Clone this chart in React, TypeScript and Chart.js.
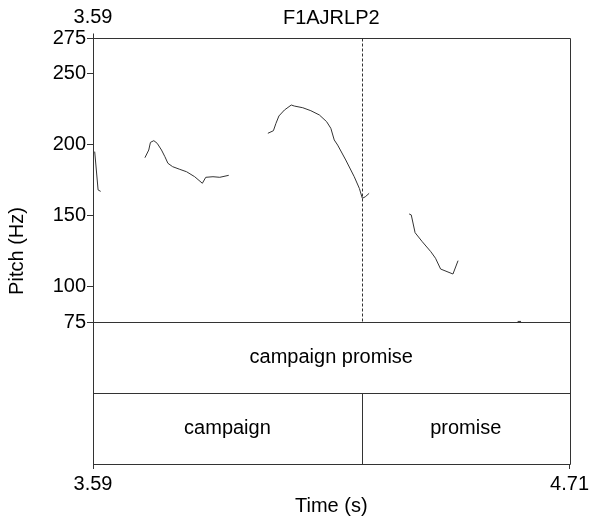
import React, { useEffect, useRef } from "react";
import { Chart, registerables } from "chart.js";

Chart.register(...registerables);

// Time window (s) and pitch range (Hz)
const TIME_MIN = 3.59;
const TIME_MAX = 4.71;
const PITCH_MIN = 75;
const PITCH_MAX = 275;
// Each annotation tier takes this many axis units below the pitch panel
const TIER_UNITS = 50;

const PITCH_TICKS = [75, 100, 150, 200, 250, 275];
const TIME_TICKS = [3.59, 4.71];
const TOP_TICKS = [3.59];
const FILE_NAME = "F1AJRLP2";

// Voiced stretches of the pitch track
const seg1Time = [3.594, 3.602, 3.608];
const seg1Hz = [195, 168, 167];

const seg2Time = [3.712, 3.721, 3.725, 3.733, 3.741, 3.751, 3.759, 3.766, 3.777, 3.794, 3.810, 3.829, 3.847, 3.855, 3.872, 3.888, 3.909];
const seg2Hz = [190.7, 196.1, 201.5, 202.7, 200.8, 196.1, 191.4, 186.8, 184.4, 182.5, 180.8, 177.3, 172.7, 176.9, 177.3, 176.9, 178.3];

const seg3Time = [4.001, 4.014, 4.020, 4.027, 4.040, 4.056, 4.063, 4.083, 4.102, 4.122, 4.139, 4.149, 4.157, 4.165, 4.184, 4.204, 4.216, 4.223, 4.230, 4.239];
const seg3Hz = [207.9, 209.7, 214.9, 220.1, 224.3, 227.8, 227.1, 225.9, 223.8, 220.8, 216.1, 211.4, 203.2, 199.6, 189.1, 177.3, 169.1, 162.1, 163.2, 165.6];

const seg4Time = [4.333, 4.338, 4.347, 4.364, 4.384, 4.395, 4.407, 4.436, 4.448];
const seg4Hz = [151.1, 150.4, 137.9, 131.5, 124.5, 119.9, 112.3, 108.8, 118.2];

const seg5Time = [4.588, 4.596];
const seg5Hz = [75.4, 75.4];

const SEGMENT_TIMES = [seg1Time, seg2Time, seg3Time, seg4Time, seg5Time];
const SEGMENT_HZ = [seg1Hz, seg2Hz, seg3Hz, seg4Hz, seg5Hz];

// Text grid: phrase tier and word tier
const phraseLabels = ["campaign promise"];
const phraseBounds = [3.59, 4.71];
const wordLabels = ["campaign", "promise"];
const wordBounds = [3.59, 4.222];

const LINE = "#333333";
const FONT = "'Liberation Sans', Arial, Helvetica, sans-serif";

const framePlugin = {
  id: "praatFrame",
  afterDraw(chart: any) {
    const { ctx, chartArea, scales } = chart;
    const xs = scales.x;
    const ys = scales.y;
    const a = (v: number) => Math.round(v) + 0.5;
    const L = a(chartArea.left);
    const R = a(chartArea.right);
    const T = a(ys.getPixelForValue(PITCH_MAX));
    const P = a(ys.getPixelForValue(PITCH_MIN));
    const M = a(ys.getPixelForValue(PITCH_MIN - TIER_UNITS));
    const B = a(ys.getPixelForValue(PITCH_MIN - 2 * TIER_UNITS));

    ctx.save();
    ctx.strokeStyle = LINE;
    ctx.lineWidth = 1;
    ctx.beginPath();
    ctx.moveTo(L, T - 5);
    ctx.lineTo(L, B);
    ctx.moveTo(R, T);
    ctx.lineTo(R, B);
    for (const yy of [T, P, M, B]) {
      ctx.moveTo(L, yy);
      ctx.lineTo(R, yy);
    }
    // word boundaries inside the word tier
    for (let i = 1; i < wordBounds.length; i++) {
      const bx = a(xs.getPixelForValue(wordBounds[i]));
      ctx.moveTo(bx, M);
      ctx.lineTo(bx, B);
    }
    ctx.stroke();

    // dotted guide through the pitch panel at each word boundary
    ctx.setLineDash([3, 2]);
    ctx.beginPath();
    for (let i = 1; i < wordBounds.length; i++) {
      const bx = a(xs.getPixelForValue(wordBounds[i]));
      ctx.moveTo(bx, T);
      ctx.lineTo(bx, P);
    }
    ctx.stroke();
    ctx.setLineDash([]);

    // tier labels
    ctx.fillStyle = "#000";
    ctx.font = `20px ${FONT}`;
    ctx.textAlign = "center";
    ctx.textBaseline = "middle";
    const drawTier = (labels: string[], bounds: number[], center: number) => {
      const cy = ys.getPixelForValue(center);
      labels.forEach((lab, i) => {
        const s = bounds[i];
        const e = i + 1 < bounds.length ? bounds[i + 1] : TIME_MAX;
        const cx = (xs.getPixelForValue(s) + xs.getPixelForValue(e)) / 2;
        ctx.fillText(lab, cx, cy);
      });
    };
    drawTier(phraseLabels, phraseBounds, PITCH_MIN - TIER_UNITS / 2);
    drawTier(wordLabels, wordBounds, PITCH_MIN - 1.5 * TIER_UNITS);
    ctx.restore();
  },
};

export default function App() {
  const canvasRef = useRef<HTMLCanvasElement | null>(null);

  useEffect(() => {
    const canvas = canvasRef.current;
    if (!canvas) return;
    Chart.defaults.font.family = FONT;
    Chart.defaults.color = "#000";

    const datasets = SEGMENT_TIMES.map((times, i) => ({
      label: `voiced ${i + 1}`,
      data: times.map((t, j) => ({ x: t, y: SEGMENT_HZ[i][j] })),
      borderColor: LINE,
      borderWidth: 1,
      pointRadius: 0,
      tension: 0,
      fill: false,
    }));

    const chart = new Chart(canvas, {
      type: "line",
      data: { datasets },
      options: {
        responsive: false,
        animation: false,
        devicePixelRatio: 1,
        layout: { padding: { top: 0, right: 21, bottom: 0, left: 0 } },
        plugins: {
          legend: { display: false },
          tooltip: { enabled: false },
          title: { display: false },
        },
        scales: {
          x: {
            type: "linear",
            position: "bottom",
            min: TIME_MIN,
            max: TIME_MAX,
            afterBuildTicks: (s: any) => {
              s.ticks = TIME_TICKS.map((v) => ({ value: v }));
            },
            afterFit: (s: any) => {
              s.height = 57;
            },
            ticks: {
              autoSkip: false,
              maxRotation: 0,
              padding: 3,
              color: "#000",
              font: { size: 20 },
              callback: (v: any) => Number(v).toFixed(2),
            },
            grid: { drawOnChartArea: false, drawTicks: true, tickLength: 5, color: LINE },
            border: { display: false },
            title: {
              display: true,
              text: "Time (s)",
              color: "#000",
              font: { size: 20 },
              padding: { top: 0, bottom: 3 },
            },
          },
          x2: {
            type: "linear",
            position: "top",
            min: TIME_MIN,
            max: TIME_MAX,
            afterBuildTicks: (s: any) => {
              s.ticks = TOP_TICKS.map((v) => ({ value: v }));
            },
            afterFit: (s: any) => {
              s.height = 38;
            },
            ticks: {
              autoSkip: false,
              maxRotation: 0,
              padding: 9,
              color: "#000",
              font: { size: 20 },
              callback: (v: any) => Number(v).toFixed(2),
            },
            grid: { display: false, drawTicks: false },
            border: { display: false },
            title: {
              display: true,
              text: FILE_NAME,
              color: "#000",
              font: { size: 20 },
              padding: { top: 6, bottom: 0 },
            },
          },
          y: {
            type: "linear",
            position: "left",
            min: PITCH_MIN - 2 * TIER_UNITS,
            max: PITCH_MAX,
            afterBuildTicks: (s: any) => {
              s.ticks = PITCH_TICKS.map((v) => ({ value: v }));
            },
            afterFit: (s: any) => {
              s.width = 93;
            },
            ticks: {
              autoSkip: false,
              padding: 1,
              color: "#000",
              font: { size: 20 },
              callback: (v: any) => String(v),
            },
            grid: { drawOnChartArea: false, drawTicks: true, tickLength: 6, color: LINE },
            border: { display: false },
            title: {
              display: true,
              text: "Pitch (Hz)",
              color: "#000",
              font: { size: 20 },
              padding: { top: 5, bottom: 0 },
            },
          },
        },
      },
      plugins: [framePlugin],
    } as any);

    return () => chart.destroy();
  }, []);

  return (
    <div style={{ position: "absolute", left: 0, top: 0, width: 592, height: 521, background: "#fff" }}>
      <canvas ref={canvasRef} width={592} height={521} style={{ display: "block" }} />
    </div>
  );
}
